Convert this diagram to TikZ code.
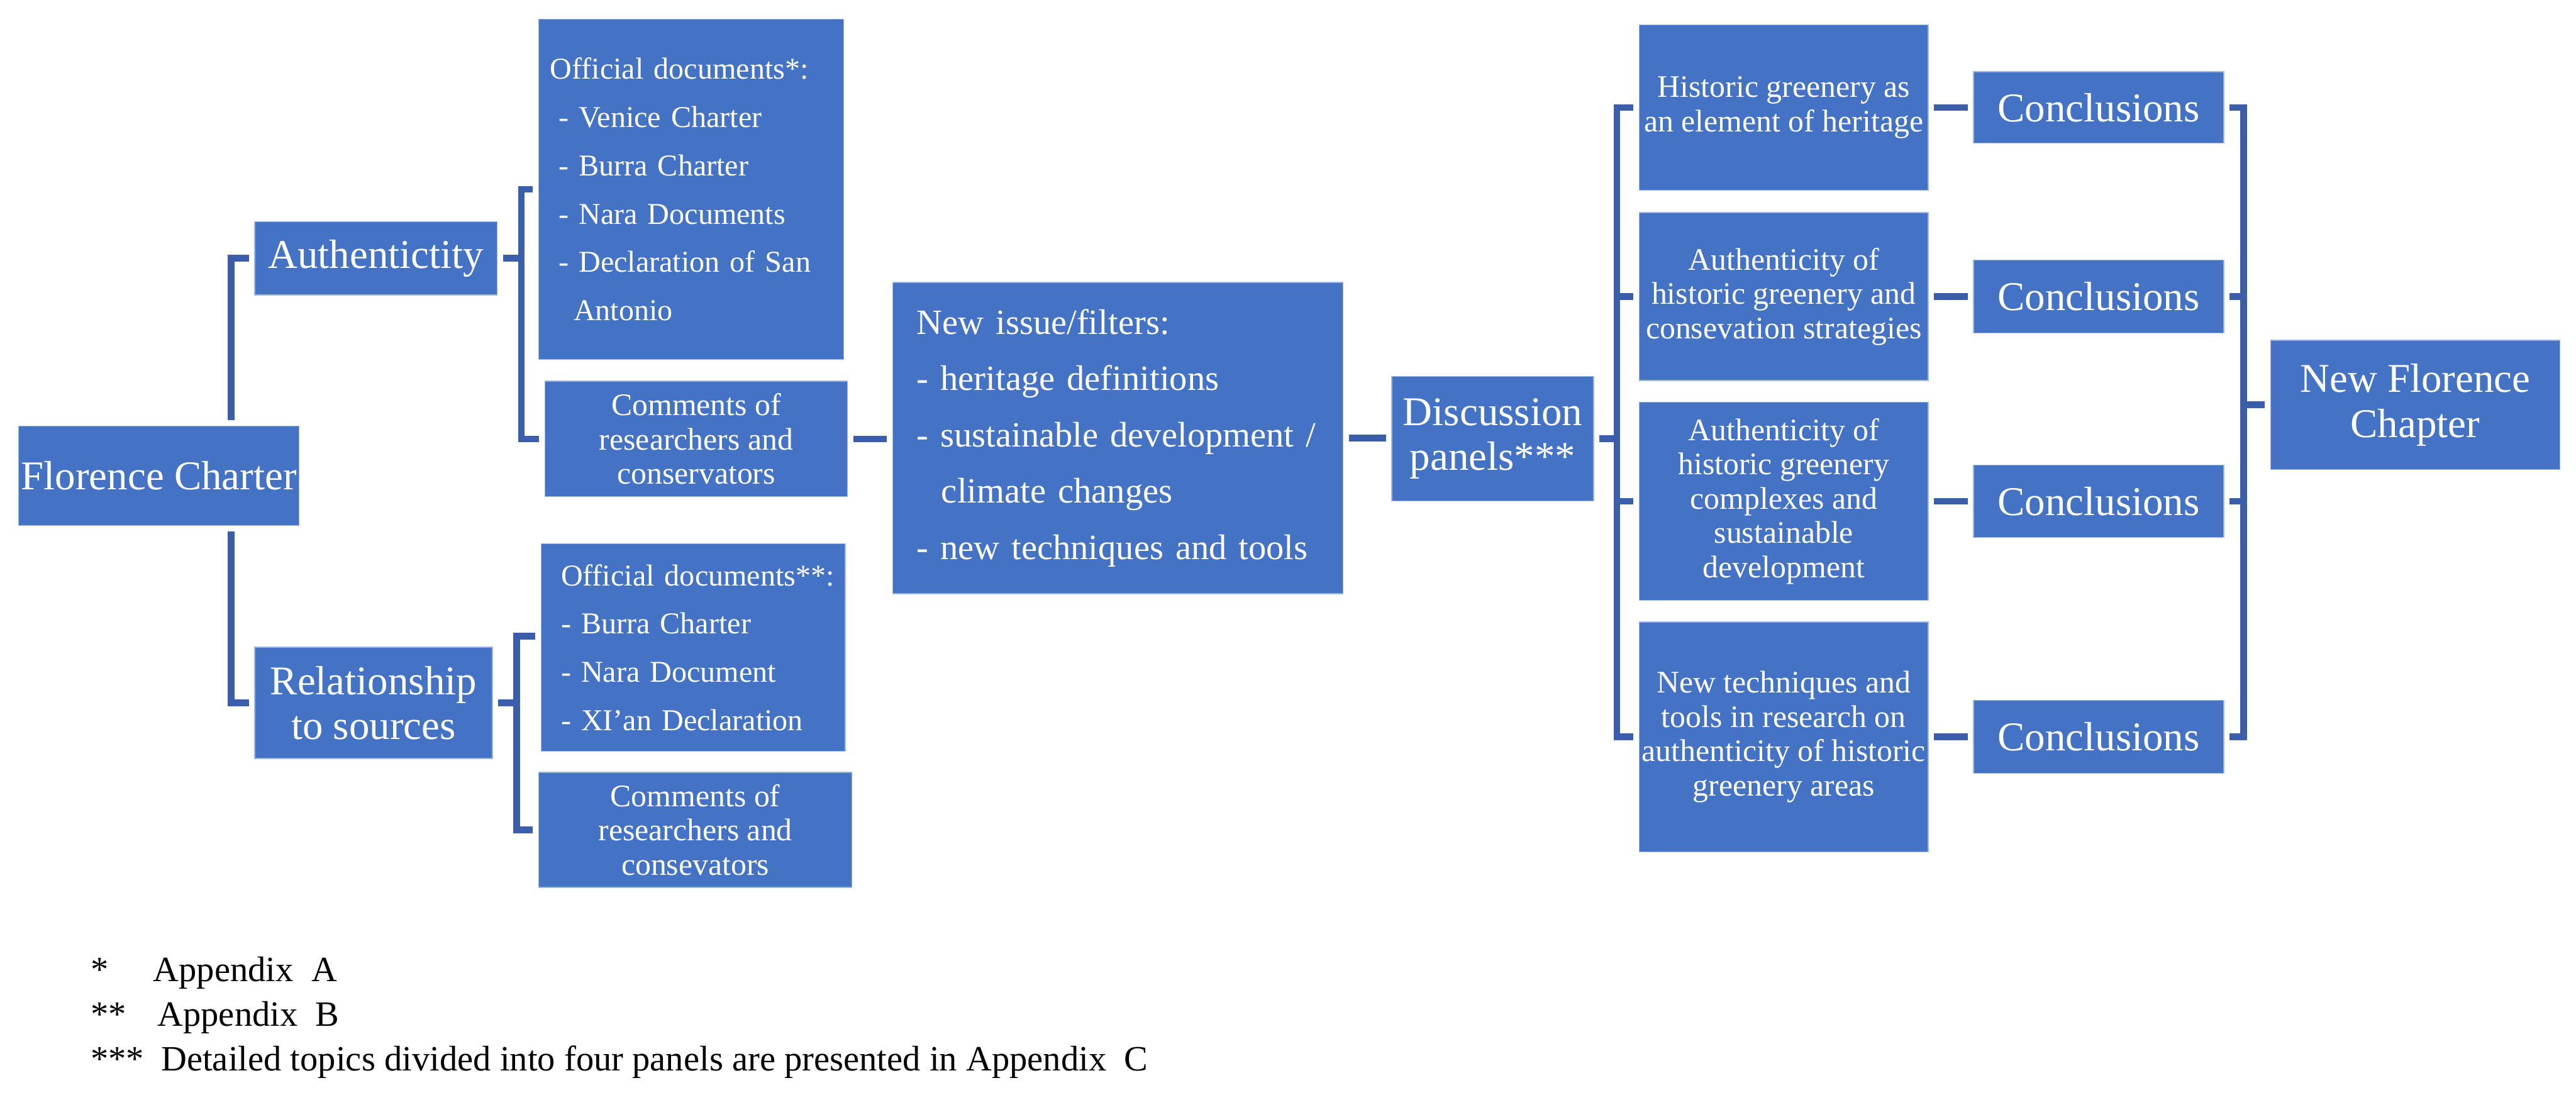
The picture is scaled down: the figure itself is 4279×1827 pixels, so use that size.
\documentclass[tikz,border=0pt]{standalone}
\usepackage{fontspec}
\setmainfont{Liberation Serif}
\usetikzlibrary{calc}
\definecolor{boxblue}{RGB}{68,114,196}
\definecolor{linkblue}{RGB}{58,94,170}
\definecolor{edgeblue}{RGB}{160,182,226}
\tikzset{
  box/.style={fill=boxblue, draw=edgeblue, line width=0.4pt, text=white, inner sep=0pt, align=center},
  sz/.style 2 args={minimum width=#1*0.01cm, minimum height=#2*0.01cm},
  big/.style={font=\fontsize{19.3}{21.2}\selectfont},
  small/.style={font=\fontsize{14.8}{16.2}\selectfont},
  doc/.style={font=\fontsize{14.3}{22.8}\selectfont},
  issue/.style={font=\fontsize{16.8}{26.6}\selectfont},
  note/.style={font=\fontsize{16.8}{20}\selectfont, anchor=base west, inner sep=0pt, text=black},
  conn/.style={draw=linkblue, line width=0.11cm},
  gap/.style={shorten <=0.09cm, shorten >=0.09cm},
  gapS/.style={shorten <=0.09cm},
  gapE/.style={shorten >=0.09cm},
}
\begin{document}
\begin{tikzpicture}[x=0.01cm, y=-0.01cm]
\useasboundingbox (0,0) rectangle (4279,1827);

% left part
\node[box,big,sz={466}{165}] (fc) at (264,790.5) {Florence Charter};
\node[box,big,sz={403}{122}] (auth) at (624.5,429) {Authentictity};
\node[box,big,sz={395}{185}] (rel) at (620.5,1167.5) {Relationship\\to sources};

\node[box,doc,sz={506}{565},text width=4.86cm,inner xsep=0.1cm,align=left] (od1) at (1148,314.5)
  {\hspace*{0.09cm}\mbox{Official documents*:}\\
   \hspace*{0.23cm}- Venice Charter\\
   \hspace*{0.23cm}- Burra Charter\\
   \hspace*{0.23cm}- Nara Documents\\
   \hspace*{0.23cm}\mbox{- Declaration of San}\\
   \hspace*{0.48cm}Antonio};
\node[box,small,sz={503}{192}] (com1) at (1156.5,729) {Comments of\\researchers and\\conservators};
\node[box,doc,sz={505}{345},text width=4.85cm,inner xsep=0.1cm,align=left] (od2) at (1151.5,1075.5)
  {\hspace*{0.23cm}\mbox{Official documents**:}\\
   \hspace*{0.23cm}- Burra Charter\\
   \hspace*{0.23cm}- Nara Document\\
   \hspace*{0.23cm}- XI'an Declaration};
\node[box,small,sz={520}{191}] (com2) at (1155,1378.5) {Comments of\\researchers and\\consevators};

% middle
\node[box,issue,sz={748}{517},text width=6.68cm,inner xsep=0.40cm,align=left] (ni) at (1857,727.5)
  {New issue/filters:\\
   - heritage definitions\\
   \mbox{- sustainable development /}\\
   \hspace*{0.41cm}climate changes\\
   - new techniques and tools};
\node[box,big,sz={335}{207}] (dp) at (2479.5,728.5) {Discussion\\panels***};

% panels
\node[box,small,sz={480}{275}] (h1) at (2963,178.5) {Historic greenery as\\an element of heritage};
\node[box,small,sz={480}{279}] (h2) at (2963,492.5) {Authenticity of\\historic greenery and\\consevation strategies};
\node[box,small,sz={480}{329}] (h3) at (2963,832.5) {Authenticity of\\historic greenery\\complexes and\\sustainable\\development};
\node[box,small,sz={480}{382}] (h4) at (2963,1224) {New techniques and\\tools in research on\\authenticity of historic\\greenery areas};

\node[box,big,sz={416}{119}] (c1) at (3486,178.5) {Conclusions};
\node[box,big,sz={416}{121}] (c2) at (3486,492.5) {Conclusions};
\node[box,big,sz={416}{120}] (c3) at (3486,832.5) {Conclusions};
\node[box,big,sz={416}{121}] (c4) at (3486,1224) {Conclusions};

\node[box,big,sz={480}{215}] (nfc) at (4012,672.5) {New Florence\\Chapter};

% footnotes
\node[note] (s1) at (150,1630) {*};
\node[note] (t1) at (254,1630) {Appendix\ \ A};
\node[note] (s2) at (150,1704) {**};
\node[note] (t2) at (261,1704) {Appendix\ \ B};
\node[note] (s3) at (150,1779) {***};
\node[note] (t3) at (267,1779) {Detailed topics divided into four panels are presented in Appendix\ \ C};

% connector columns
\coordinate (vA) at (384,0);
\coordinate (vB) at (866,0);
\coordinate (vC) at (858,0);
\coordinate (vD) at (2686,0);
\coordinate (vE) at (3727,0);
\coordinate (od2p) at ($(od2.west)+(0,-19)$);

\draw[conn,gap] (auth.west) -- (auth.west -| vA) -- (vA |- fc.north);
\draw[conn,gap] (rel.west) -- (rel.west -| vA) -- (vA |- fc.south);

\draw[conn,gapS] (auth.east) -- (auth.east -| vB);
\draw[conn,gap] (od1.west) -- (od1.west -| vB) -- (com1.west -| vB) -- (com1.west);
\draw[conn,gapS] (rel.east) -- (rel.east -| vC);
\draw[conn,gap] (od2p) -- (od2p -| vC) -- (com2.west -| vC) -- (com2.west);

\draw[conn,gap] (com1.east) -- (com1.east -| ni.west);
\draw[conn,gap] (ni.east) -- (ni.east -| dp.west);

\draw[conn,gapS] (dp.east) -- (dp.east -| vD);
\draw[conn,gap] (h1.west) -- (h1.west -| vD) -- (h4.west -| vD) -- (h4.west);
\draw[conn,gapE] (h2.west -| vD) -- (h2.west);
\draw[conn,gapE] (h3.west -| vD) -- (h3.west);

\draw[conn,gap] (h1.east) -- (h1.east -| c1.west);
\draw[conn,gap] (h2.east) -- (h2.east -| c2.west);
\draw[conn,gap] (h3.east) -- (h3.east -| c3.west);
\draw[conn,gap] (h4.east) -- (h4.east -| c4.west);

\draw[conn,gap] (c1.east) -- (c1.east -| vE) -- (c4.east -| vE) -- (c4.east);
\draw[conn,gapS] (c2.east) -- (c2.east -| vE);
\draw[conn,gapS] (c3.east) -- (c3.east -| vE);
\draw[conn,gapE] (vE |- nfc.west) -- (nfc.west);
\end{tikzpicture}
\end{document}
